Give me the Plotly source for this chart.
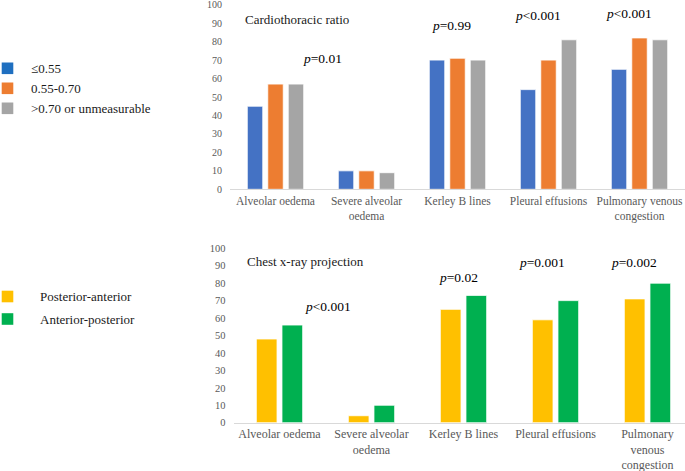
import plotly.graph_objects as go

# ---------------- data ----------------
categories_top = ["Alveolar oedema", "Severe alveolar<br>oedema", "Kerley B lines",
                  "Pleural effusions", "Pulmonary venous<br>congestion"]
categories_bottom = ["Alveolar oedema", "Severe alveolar<br>oedema", "Kerley B lines",
                     "Pleural effusions", "Pulmonary<br>venous<br>congestion"]

ctr_names = ["≤0.55", "0.55-0.70", ">0.70 or unmeasurable"]
ctr_le055 = [45, 10, 70, 54, 65]
ctr_055_070 = [57, 10, 71, 70, 82]
ctr_gt070 = [57, 9, 70, 81, 81]

proj_names = ["Posterior-anterior", "Anterior-posterior"]
proj_pa = [48, 4, 65, 59, 71]
proj_ap = [56, 10, 73, 70, 80]

p_top = ["<i>p</i>=0.01", "<i>p</i>=0.99", "<i>p</i>&lt;0.001", "<i>p</i>&lt;0.001"]
p_bottom = ["<i>p</i>&lt;0.001", "<i>p</i>=0.02", "<i>p</i>=0.001", "<i>p</i>=0.002"]

y_ticks = [0, 10, 20, 30, 40, 50, 60, 70, 80, 90, 100]

title_top = "Cardiothoracic ratio"
title_bottom = "Chest x-ray projection"

# ---------------- style ----------------
W, H = 685, 471
FONT = "Liberation Serif"
TICK_COLOR = "#595959"
bar_colors_top = ["#4472C4", "#ED7D31", "#A5A5A5"]
legend_colors_top = ["#1F6FC0", "#ED7D31", "#A5A5A5"]
bar_colors_bottom = ["#FFC000", "#00B050"]


def px(x):
    return x / W


def py(y):
    return 1 - y / H


fig = go.Figure()

# top chart bars (3 per category)
w_top = 0.170
offs_top = [-0.310, -0.085, 0.140]
for name, vals, col, off in zip(ctr_names, [ctr_le055, ctr_055_070, ctr_gt070],
                                bar_colors_top, offs_top):
    fig.add_trace(go.Bar(x=categories_top, y=vals, name=name, width=w_top, offset=off,
                         marker=dict(color=col, line=dict(color="white", width=0.8)),
                         xaxis="x", yaxis="y", showlegend=False))

# bottom chart bars (2 per category)
w_bot = 0.225
offs_bot = [-0.252, 0.027]
for name, vals, col, off in zip(proj_names, [proj_pa, proj_ap], bar_colors_bottom, offs_bot):
    fig.add_trace(go.Bar(x=categories_bottom, y=vals, name=name, width=w_bot, offset=off,
                         marker=dict(color=col, line=dict(color="white", width=0.8)),
                         xaxis="x2", yaxis="y2", showlegend=False))

common_x = dict(type="category", showgrid=False, showline=True, linecolor="#D9D9D9",
                linewidth=1, ticks="", zeroline=False, fixedrange=True,
                ticklabeloverflow="allow")
common_y = dict(range=[0, 100], tickvals=y_ticks, showgrid=False, showline=False,
                zeroline=False, ticks="", ticklabelstandoff=7, ticklabeloverflow="allow",
                fixedrange=True)

fig.update_layout(
    width=W, height=H,
    margin=dict(l=0, r=0, t=0, b=0),
    paper_bgcolor="white", plot_bgcolor="white",
    template="none",
    barmode="group",
    xaxis=dict(domain=[px(230), 1], range=[-0.5, 4.5], anchor="y", ticklabelstandoff=1,
               tickfont=dict(family=FONT, size=11.5, color=TICK_COLOR), **common_x),
    yaxis=dict(domain=[py(189.3), py(4.7)], anchor="x",
               tickfont=dict(family=FONT, size=10, color=TICK_COLOR), **common_y),
    xaxis2=dict(domain=[px(233.5), 1], range=[-0.5, 4.4076], anchor="y2", ticklabelstandoff=0,
                tickfont=dict(family=FONT, size=12, color=TICK_COLOR), **common_x),
    yaxis2=dict(domain=[py(422.7), py(248.3)], anchor="x2",
                tickfont=dict(family=FONT, size=10.5, color=TICK_COLOR), **common_y),
)

annotations = []
txt_font = dict(family=FONT, size=13.5, color="#000000")

# p-value labels (positions in axis units)
p_top_pos = [(0.516, 70.6), (1.934, 88.5), (2.89, 94.4), (3.88, 95.0)]
for t, (x, y) in zip(p_top, p_top_pos):
    annotations.append(dict(x=x, y=y, xref="x", yref="y", text=t, showarrow=False,
                            font=txt_font, xanchor="center", yanchor="middle"))
p_bot_pos = [(0.527, 66.5), (1.951, 83.0), (2.848, 91.6), (3.848, 92.1)]
for t, (x, y) in zip(p_bottom, p_bot_pos):
    annotations.append(dict(x=x, y=y, xref="x2", yref="y2", text=t, showarrow=False,
                            font=txt_font, xanchor="center", yanchor="middle"))

# chart titles
annotations.append(dict(x=px(243), y=py(20), xref="paper", yref="paper", text=title_top,
                        showarrow=False, xanchor="left", yanchor="middle",
                        font=dict(family=FONT, size=13, color="#1a1a1a")))
annotations.append(dict(x=px(245), y=py(261.7), xref="paper", yref="paper", text=title_bottom,
                        showarrow=False, xanchor="left", yanchor="middle",
                        font=dict(family=FONT, size=13, color="#1a1a1a")))

# legends drawn as squares + labels
shapes = []
leg_font = dict(family=FONT, size=13, color="#1a1a1a")
for i, (name, col) in enumerate(zip(ctr_names, legend_colors_top)):
    cy = 68.3 + 20 * i
    shapes.append(dict(type="rect", xref="paper", yref="paper", x0=px(1.7), x1=px(13.3),
                       y0=py(cy + 5.8), y1=py(cy - 5.8), fillcolor=col, line=dict(width=0)))
    annotations.append(dict(x=px(29.3), y=py(cy), xref="paper", yref="paper", text=name,
                            showarrow=False, xanchor="left", yanchor="middle", font=leg_font))
for i, (name, col) in enumerate(zip(proj_names, bar_colors_bottom)):
    cy = 296.5 + 22.5 * i
    shapes.append(dict(type="rect", xref="paper", yref="paper", x0=px(1.7), x1=px(13.3),
                       y0=py(cy + 5.8), y1=py(cy - 5.8), fillcolor=col, line=dict(width=0)))
    annotations.append(dict(x=px(38), y=py(cy), xref="paper", yref="paper", text=name,
                            showarrow=False, xanchor="left", yanchor="middle", font=leg_font))

fig.update_layout(annotations=annotations, shapes=shapes)

fig.write_html("out.html", config={"displayModeBar": False},
               post_script="document.body.style.margin='0px';")
